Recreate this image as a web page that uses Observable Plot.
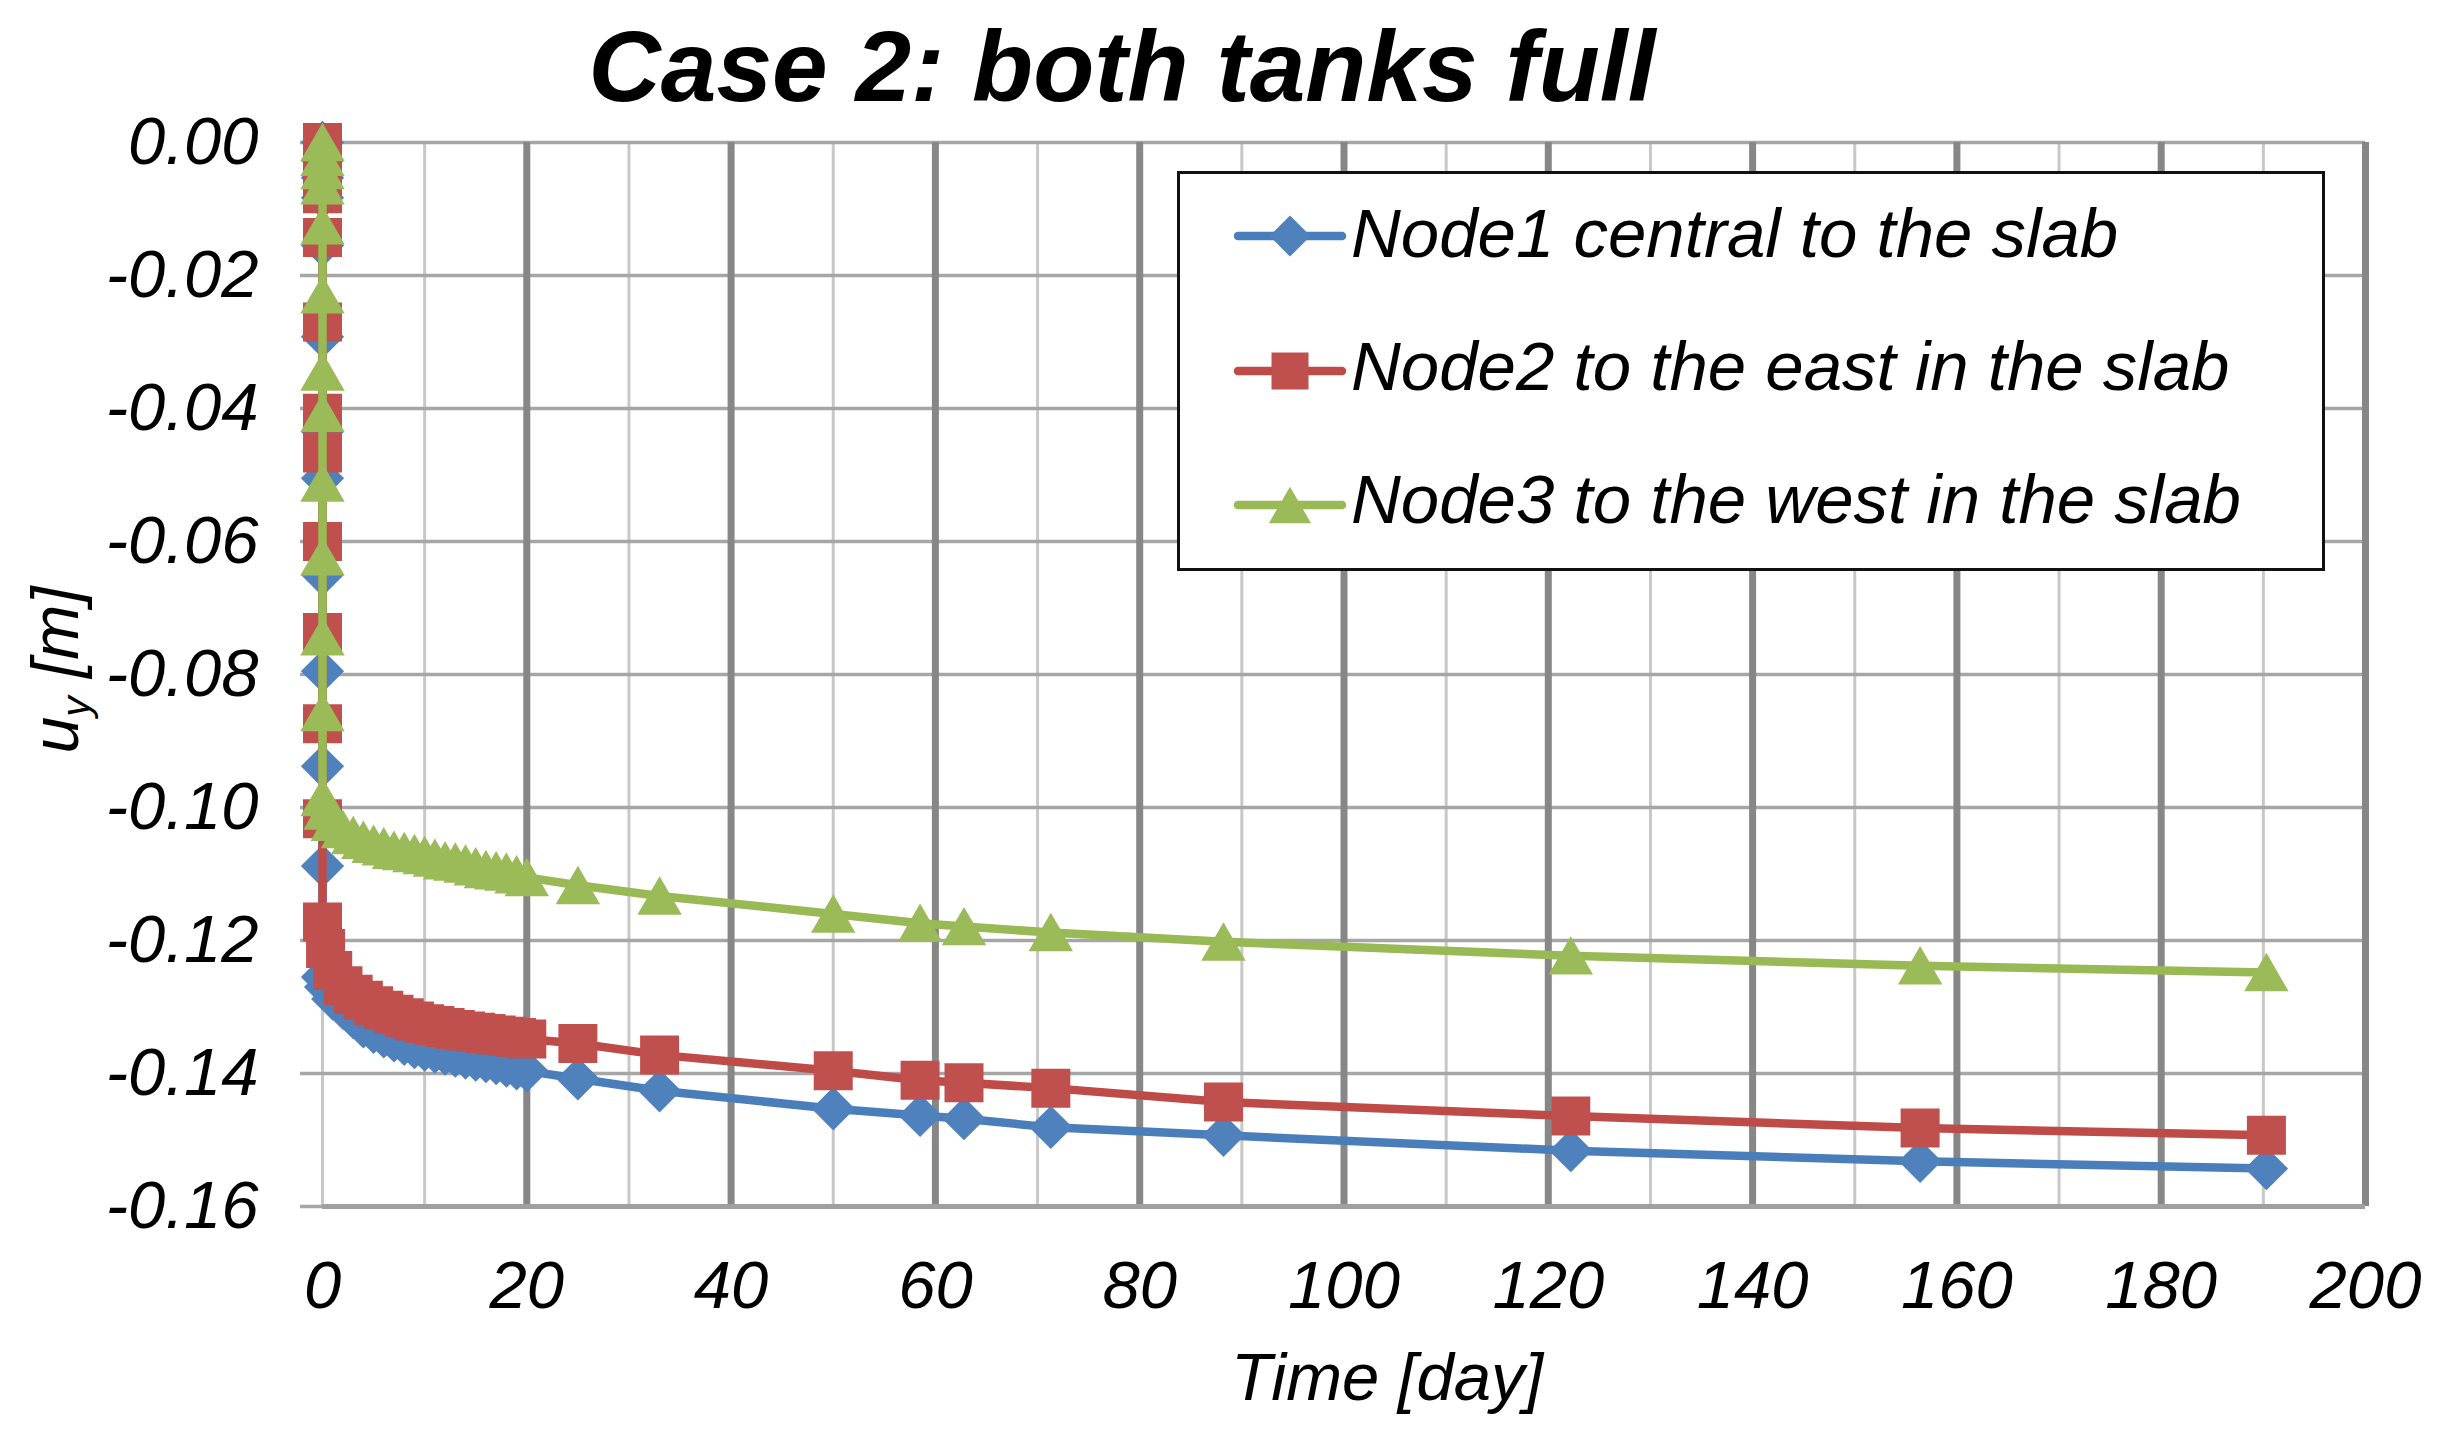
<!DOCTYPE html>
<html><head><meta charset="utf-8">
<script src="https://cdn.jsdelivr.net/npm/d3@7"></script>
<script src="https://cdn.jsdelivr.net/npm/@observablehq/plot@0.6"></script>
<style>
body{margin:0;background:#fff;}
#wrap{position:relative;width:2437px;height:1440px;font-family:"Liberation Sans",Arial,sans-serif;overflow:hidden;}
.abs{position:absolute;white-space:nowrap;line-height:1;color:#000;}
#legend{position:absolute;left:1177px;top:171px;width:1148px;height:400px;box-sizing:border-box;border:3px solid #111;background:#fff;}
</style></head>
<body><div id="wrap"></div>
<script>
// ---- data ----
const titleText = "Case 2: both tanks full";
const xLabelText = "Time [day]";
const seriesNames = ["Node1 central to the slab", "Node2 to the east in the slab", "Node3 to the west in the slab"];
const times = [0,0,0,0,0,0,0,0,0,0,0,0,0,
  0.3,
  1,2,3,4,5,6,7,8,9,10,11,12,13,14,15,16,17,18,19,20,
  25,33,50,58.5,62.8,71.3,88.2,122.2,156.4,190.3];
const node1 = [0,-0.0027,-0.0053,-0.0083,-0.0155,-0.0292,-0.0435,-0.0505,-0.0650,-0.0795,-0.0938,-0.1088,-0.1255,
  -0.1270,
  -0.1288,-0.1302,-0.1316,-0.1330,-0.1338,-0.1345,-0.1351,-0.1356,-0.1361,-0.1365,-0.1368,-0.1371,-0.1374,-0.1377,-0.1380,-0.1382,-0.1385,-0.1389,-0.1393,-0.1396,
  -0.1408,-0.1426,-0.1453,-0.1463,-0.1468,-0.1481,-0.1493,-0.1516,-0.1532,-0.1543];
const node2 = [0,-0.0026,-0.0050,-0.0077,-0.0143,-0.0270,-0.0407,-0.0467,-0.0600,-0.0737,-0.0874,-0.1017,-0.1172,
  -0.1212,
  -0.1245,-0.1268,-0.1281,-0.1290,-0.1298,-0.1305,-0.1311,-0.1316,-0.1321,-0.1325,-0.1328,-0.1331,-0.1334,-0.1336,-0.1338,-0.1340,-0.1342,-0.1344,-0.1346,-0.1348,
  -0.1355,-0.1372,-0.1396,-0.1410,-0.1414,-0.1422,-0.1443,-0.1464,-0.1482,-0.1493];
const node3 = [0,-0.0022,-0.0042,-0.0065,-0.0125,-0.0229,-0.0345,-0.0407,-0.0512,-0.0623,-0.0743,-0.0857,-0.0985,
  -0.1005,
  -0.1022,-0.1033,-0.1042,-0.1049,-0.1055,-0.1059,-0.1064,-0.1066,-0.1069,-0.1072,-0.1076,-0.1080,-0.1082,-0.1085,-0.1089,-0.1093,-0.1095,-0.1097,-0.1101,-0.1105,
  -0.1117,-0.1133,-0.1160,-0.1174,-0.1179,-0.1188,-0.1202,-0.1223,-0.1238,-0.1248];
const xTicks = [0,20,40,60,80,100,120,140,160,180,200];
const xMajorGrid = [20,40,60,80,100,120,140,160,180,200];
const xMinorGrid = [0,10,30,50,70,90,110,130,150,170,190];
const yTicks = [0,-0.02,-0.04,-0.06,-0.08,-0.10,-0.12,-0.14,-0.16];

// ---- styles ----
const lineColors = ["#4A7EBB", "#BE4B48", "#98B954"];
const markerColors = ["#4F81BD", "#C0504D", "#9BBB59"];
const symbols = ["diamond2", "square", "triangle"];
const radii = [19.5, 22, 16.5];
const dys = [0, 0, 6];
const font = '"Liberation Sans", Arial, sans-serif';

const allSeries = [node1, node2, node3].map((vals, s) =>
  times.map((t, i) => ({t, v: vals[i], s: seriesNames[s]})));

const seriesMarks = allSeries.flatMap((rows, s) => [
  Plot.line(rows, {x: "t", y: "v", stroke: lineColors[s], strokeWidth: 8.5, strokeLinejoin: "round"}),
  Plot.dot(rows, {x: "t", y: "v", symbol: () => symbols[s], r: radii[s], fill: markerColors[s], stroke: "none", dy: dys[s]})
]);

const chart = Plot.plot({
  width: 2437, height: 1440,
  marginLeft: 322, marginRight: 72, marginTop: 142, marginBottom: 234,
  x: {domain: [0, 200]},
  y: {domain: [-0.16, 0]},
  style: {fontFamily: font, fontStyle: "italic", fontSize: "67px", background: "transparent", overflow: "visible"},
  marks: [
    Plot.ruleX(xMinorGrid, {stroke: "#c8c8c8", strokeWidth: 3}),
    Plot.ruleY(yTicks, {stroke: "#a6a6a6", strokeWidth: 3.5}),
    Plot.ruleX(xMajorGrid, {stroke: "#878787", strokeWidth: 7}),
    Plot.ruleY([-0.16], {stroke: "#a0a0a0", strokeWidth: 5}),
    Plot.axisY({ticks: yTicks, tickSize: 22, tickPadding: 42, tickFormat: d => d.toFixed(2), stroke: "#a6a6a6", strokeWidth: 3.5, fill: "#000", fontSize: 67, fontStyle: "italic", label: null}),
    Plot.axisX({ticks: xTicks, tickSize: 0, tickPadding: 54, tickFormat: d => String(d), fill: "#000", fontSize: 67, fontStyle: "italic", label: null}),
    ...seriesMarks
  ]
});
chart.style.position = "absolute";
chart.style.left = "0px";
chart.style.top = "0px";
const wrap = document.getElementById("wrap");
wrap.appendChild(chart);

// title
const title = document.createElement("div");
title.className = "abs";
title.textContent = titleText;
Object.assign(title.style, {left: "1122px", top: "16px", transform: "translateX(-50%)", fontSize: "100px", fontWeight: "bold", fontStyle: "italic"});
wrap.appendChild(title);

// x label
const xl = document.createElement("div");
xl.className = "abs";
xl.textContent = xLabelText;
Object.assign(xl.style, {left: "1387px", top: "1343px", transform: "translateX(-50%)", fontSize: "67px", fontStyle: "italic"});
wrap.appendChild(xl);

// y label with subscript
const yl = document.createElement("div");
yl.className = "abs";
yl.innerHTML = 'u<span style="font-size:0.62em;position:relative;top:0.3em">y</span> [m]';
Object.assign(yl.style, {left: "55px", top: "670px", transform: "translate(-50%,-50%) rotate(-90deg)", fontSize: "66px", fontStyle: "italic"});
wrap.appendChild(yl);

// legend
const legend = document.createElement("div");
legend.id = "legend";
wrap.appendChild(legend);
const rowBaselines = [257, 390, 523];
const rowCenters = [236, 371, 505];
seriesNames.forEach((name, s) => {
  const svg = d3.create("svg").attr("width", 104).attr("height", 48)
    .style("position", "absolute").style("left", (1238 - 1177 - 3) + "px").style("top", (rowCenters[s] - 24 - 171 - 3) + "px").style("overflow", "visible");
  svg.append("line").attr("x1", 0).attr("x2", 104).attr("y1", 24).attr("y2", 24)
    .attr("stroke", lineColors[s]).attr("stroke-width", 8.5).attr("stroke-linecap", "round");
  const typ = [d3.symbolDiamond2, d3.symbolSquare, d3.symbolTriangle][s];
  svg.append("path").attr("d", d3.symbol(typ, Math.PI * radii[s] * radii[s] * 0.9)())
    .attr("transform", `translate(52,${24 + dys[s]})`).attr("fill", markerColors[s]);
  legend.appendChild(svg.node());
  const tx = document.createElement("div");
  tx.className = "abs";
  tx.textContent = name;
  Object.assign(tx.style, {left: (1351 - 1177 - 3) + "px", top: (rowBaselines[s] - 58.4 - 171 - 3) + "px", fontSize: "69px", fontStyle: "italic"});
  legend.appendChild(tx);
});
</script>
</body></html>
